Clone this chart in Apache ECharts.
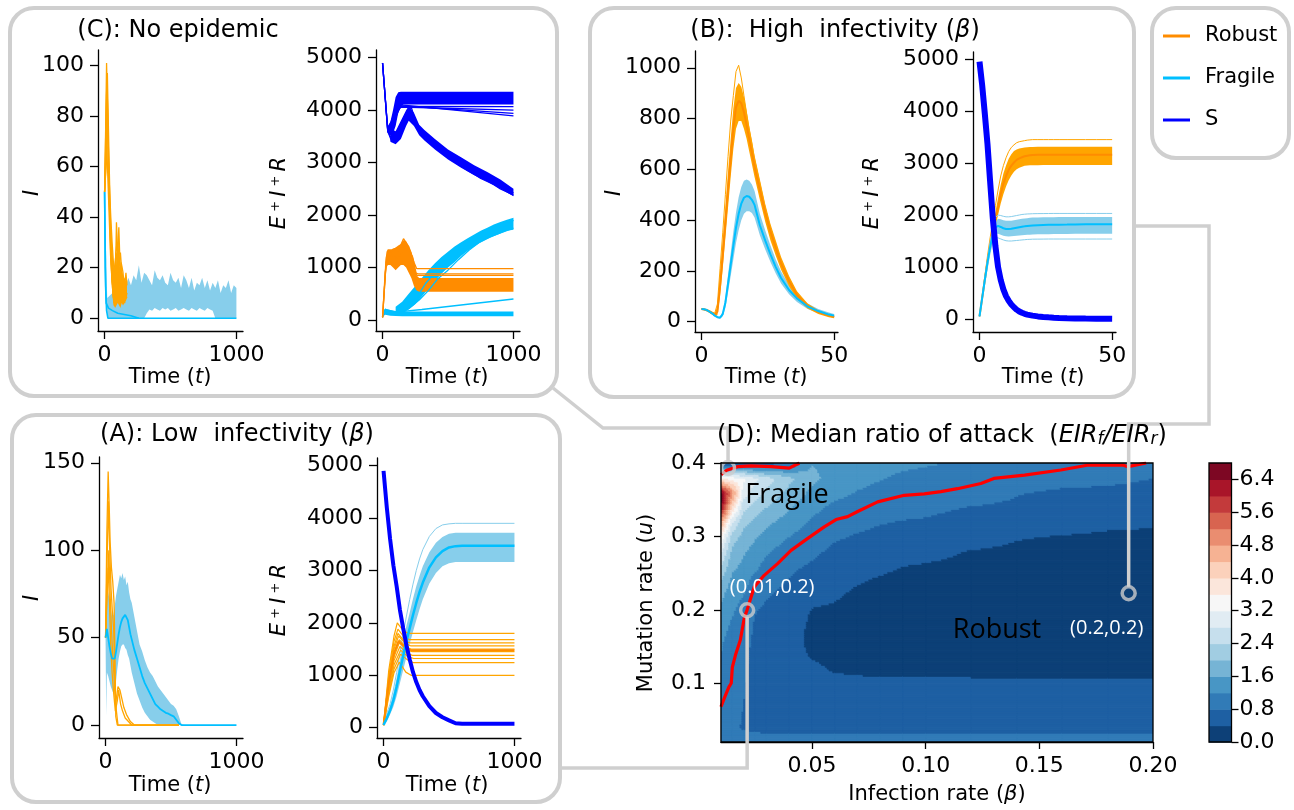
<!DOCTYPE html>
<html>
<head>
<meta charset="utf-8">
<script src="https://cdn.jsdelivr.net/npm/echarts/dist/echarts.min.js"></script>
<style>
  html, body { margin: 0; padding: 0; background: #fff; }
  #main { width: 1294px; height: 810px; }
</style>
</head>
<body>
<div id="main"></div>
<script>
// ---------- data ----------

// (B) high infectivity, time 0..50
const tB = [0,1,2,3,4,5,6,7,8,9,10,11,12,13,14,15,16,17,18,19,20,22,24,26,28,30,33,36,40,44,48,50];
const bRobustIMed = [50,48,45,40,33,27,40,140,260,390,520,640,760,845,870,860,825,775,720,665,610,520,430,355,290,230,160,105,62,38,24,19];
const bRobustILo  = [48,45,41,35,28,22,25,100,210,330,450,570,680,760,790,790,760,720,670,620,570,480,395,320,260,205,140,90,52,30,18,14];
const bRobustIHi  = [52,50,48,44,38,33,60,190,320,450,590,720,840,920,940,925,885,830,770,715,655,560,465,385,320,255,180,120,72,45,30,24];
const bRobustIOut = [52,50,48,44,38,34,70,210,350,500,650,790,890,985,1010,960,890,820,755,700,640,545,450,370,305,240,170,112,66,42,27,22];
const bFragileIMed = [50,49,46,40,33,24,18,16,30,75,150,225,300,370,425,465,488,495,492,480,460,380,320,265,215,172,125,92,60,42,28,24];
const bFragileILo  = [48,47,44,37,30,21,15,13,22,55,115,180,245,310,360,400,425,435,435,428,410,340,285,235,190,150,108,78,50,34,22,18];
const bFragileIHi  = [52,51,48,43,36,28,22,20,40,95,185,270,355,430,490,530,555,560,555,540,515,425,360,300,245,198,145,108,72,50,36,30];
const bS = [4950,4500,3950,3370,2650,1950,1400,1000,750,570,440,350,280,225,180,145,120,100,85,75,65,50,40,32,25,20,15,12,9,7,6,5];
const bRobustRMed = [50,400,750,1100,1400,1650,1900,2150,2400,2600,2750,2870,2950,3010,3060,3090,3110,3130,3140,3150,3155,3158,3160,3160,3160,3160,3160,3160,3160,3160,3160,3160];
const bRobustRLo  = [50,380,700,1020,1300,1550,1780,2000,2220,2400,2550,2670,2760,2830,2880,2910,2930,2945,2950,2955,2955,2958,2960,2960,2960,2960,2960,2960,2960,2960,2960,2960];
const bRobustRHi  = [50,420,800,1180,1500,1780,2060,2330,2580,2800,2950,3080,3170,3230,3260,3280,3290,3300,3305,3310,3310,3312,3315,3315,3315,3315,3315,3315,3315,3315,3315,3315];
const bRobustROut = [50,430,820,1210,1560,1870,2180,2480,2750,2950,3100,3220,3300,3350,3390,3410,3420,3430,3440,3445,3450,3450,3450,3450,3450,3450,3450,3450,3450,3450,3450,3450];
const bFragileRMed = [50,400,750,1080,1380,1620,1760,1790,1770,1745,1730,1730,1735,1745,1755,1765,1775,1782,1790,1795,1800,1805,1810,1812,1814,1815,1816,1818,1820,1820,1820,1820];
const bFragileRLo  = [50,380,720,1030,1320,1540,1640,1640,1620,1600,1590,1588,1590,1595,1600,1605,1610,1615,1620,1622,1625,1628,1630,1632,1634,1635,1636,1638,1640,1640,1640,1640];
const bFragileRHi  = [50,420,780,1120,1440,1700,1880,1930,1920,1900,1890,1888,1890,1900,1910,1920,1930,1935,1940,1945,1950,1952,1955,1957,1958,1960,1960,1960,1960,1960,1960,1960];
const bFragileROutHi = [50,430,800,1150,1480,1760,1950,2000,1990,1975,1965,1965,1970,1980,1990,2000,2010,2015,2020,2022,2025,2027,2028,2029,2030,2030,2030,2030,2030,2030,2030,2030];
const bFragileROutLo = [50,370,700,1000,1280,1490,1570,1560,1540,1520,1505,1500,1500,1505,1510,1515,1520,1525,1530,1532,1535,1536,1537,1538,1538,1538,1538,1538,1538,1538,1538,1538];

// (C) no epidemic, time 0..1000
const tC = [0,20,40,60,80,100,120,140,160,180,200,220,240,260,280,300,320,340,360,380,400,420,440,460,480,500,520,540,560,580,600,620,640,660,680,700,720,740,760,780,800,820,840,860,880,900,920,940,960,980,1000];
const cFragTop = [50,8,9,10,10,13,11,14,12,16,13,17,15,21,14,18,17,15,13,19,16,15,17,14,13,18,15,14,16,12,17,15,12,16,11,14,13,16,12,15,11,14,12,15,10,13,12,15,10,13,12];
const cFragBot = [50,0,0,0,0,0,0,0,0,0,0,0,0,0,0,0,2,3.5,3,4,3.5,3,4,3.5,4,3,3.5,4,3,3.5,4,3.5,3,4,3.5,3,4,3.5,3,4,3.5,3,0,0,0,0,0,0,0,0,0];
const cFragILines = [
  [[0,50],[8,12],[15,3],[25,0],[1000,0]],
  [[0,50],[5,20],[12,6],[30,4],[60,3],[100,2],[150,1.5],[200,1],[260,0]]
];
const cRobIBandT  = [40,50,60,70,80,90,100,110,120,130,140,150,160,170];
const cRobIBandLo = [28,16,9,5,4,5,6,5,4,6,5,6,7,8];
const cRobIBandHi = [48,36,26,20,18,22,24,20,21,19,17,16,15,13];
const cRobustILines = [
  [[0,50],[8,75],[15,101],[22,85],[30,60],[40,38],[50,22],[60,12],[70,6],[80,10],[90,38],[100,25],[110,18],[125,12],[140,9],[155,12],[168,8]],
  [[0,50],[10,70],[18,95],[26,72],[34,50],[44,32],[54,20],[64,10],[74,5],[86,15],[96,22],[108,36],[118,20],[132,14],[148,10],[165,14]],
  [[0,50],[12,62],[20,80],[30,66],[38,45],[48,28],[58,15],[68,8],[78,14],[92,20],[104,15],[116,10],[128,18],[142,12],[158,7],[170,10]],
  [[0,50],[9,58],[17,68],[25,55],[35,40],[45,25],[55,16],[65,12],[75,20],[88,26],[100,18],[112,24],[124,16],[138,8],[152,6],[166,11]],
  [[0,50],[14,88],[21,97],[28,78],[36,58],[46,35],[56,24],[66,18],[76,9],[84,25],[94,30],[106,20],[120,26],[134,16],[150,12],[162,18],[170,13]],
  [[0,50],[11,66],[19,90],[27,64],[37,52],[47,40],[57,30],[67,22],[77,16],[90,12],[102,30],[114,14],[126,22],[140,18],[154,9],[168,15]]
];
const cSFlatT  = [0,20,40,60,80,100,120,140,160,1000];
const cSFlatLo = [4880,4150,3560,3520,3560,3700,3950,4080,4110,4110];
const cSFlatHi = [4920,4300,3700,3780,4000,4250,4340,4350,4350,4350];
const cSLines = [
  [[0,4900],[40,3600],[90,3800],[140,4100],[1000,3890]],
  [[0,4900],[40,3620],[90,3850],[140,4080],[1000,3940]],
  [[0,4900],[40,3580],[90,3900],[140,4060],[1000,4000]],
  [[0,4900],[40,3600],[90,3950],[140,4070],[1000,4066]]
];
const cSDecT  = [60,100,140,180,200,240,280,320,400,500,600,700,800,900,1000];
const cSDecLo = [3400,3350,3450,3700,3800,3700,3520,3420,3250,3060,2900,2760,2640,2500,2360];
const cSDecHi = [3650,3600,3800,4000,4080,3950,3720,3620,3450,3250,3100,2950,2820,2680,2500];
const cSDecLines = [
  [[40,3600],[70,3450],[100,3500],[130,3700],[160,3850],[190,4000],[220,4050],[250,3800],[280,3650],[320,3560],[360,3480],[400,3380],[450,3280],[500,3150],[550,3080],[600,2990],[650,2900],[700,2830],[750,2760],[800,2700],[850,2640],[900,2580],[950,2500],[1000,2420]],
  [[40,3600],[70,3400],[100,3420],[130,3600],[160,3800],[190,3950],[220,3950],[250,3760],[280,3600],[320,3500],[360,3420],[400,3330],[450,3220],[500,3100],[550,3020],[600,2930],[650,2850],[700,2780],[750,2700],[800,2640],[850,2580],[900,2500],[950,2440],[1000,2380]]
];
const cRobT  = [0,10,20,30,40,60,80,100,120,140,160,180,200,220,240,260,280,1000];
const cRobLo = [50,300,700,1000,1050,1050,1000,950,1000,1050,1050,1000,900,800,650,560,540,540];
const cRobHi = [50,600,1100,1300,1350,1350,1350,1380,1420,1450,1520,1500,1400,1300,1100,850,800,800];
const cRobLines = [
  [[0,50],[20,900],[40,1300],[100,1200],[160,1550],[200,1400],[240,1100],[260,980],[1000,980]],
  [[0,50],[30,1200],[80,1350],[150,1400],[210,1300],[250,900],[270,880],[1000,880]],
  [[0,50],[25,1000],[60,1250],[120,1150],[180,1450],[230,1200],[260,850],[1000,850]]
];
const cFragFlatT  = [0,10,20,40,60,100,150,200,1000];
const cFragFlatLo = [40,80,100,90,80,75,70,70,70];
const cFragFlatHi = [60,180,220,200,190,170,160,160,160];
const cFragRiseT  = [100,150,200,250,300,350,400,450,500,550,600,650,700,750,800,850,900,950,1000];
const cFragRiseLo = [100,130,200,300,450,600,750,880,1000,1100,1220,1320,1400,1480,1550,1600,1650,1700,1720];
const cFragRiseHi = [250,350,500,650,800,950,1080,1200,1300,1400,1480,1560,1630,1700,1760,1820,1870,1910,1950];
const cFragRLines = [
  [[0,50],[20,200],[100,150],[300,200],[1000,400]],
  [[100,150],[180,300],[260,420],[330,700],[400,900],[480,1080],[560,1250],[640,1420],[720,1540],[800,1640],[880,1720],[960,1820],[1000,1900]],
  [[120,120],[200,220],[280,380],[350,560],[420,780],[500,950],[580,1150],[660,1330],[740,1480],[820,1580],[900,1660],[1000,1750]]
];

// (A) low infectivity, time 0..1000
const tA1 = [0,5,10,20,30,40,50,60,70,80,90,100,110,120,130,140,150,160,170,180,190,200,220,240,260,280,300,320,340,360,380,400,420,440,460,480,500,520,540,560,580,600,1000];
const aFragIMed = [50,52,55,50,45,41,38,37,38,42,47,52,56,59,61,62,63,62,60,56,52,49,43,38,33,28,24,21,18,15,12,10.5,9,8,7,6.5,5.7,5,3,1,0,0,0];
const aFragIHi  = [50,70,78,76,72,66,62,63,68,74,78,82,86,84,87,83,85,80,82,76,72,70,62,54,46,42,37,33,30,28,25,22,20,18,16,14,12,11,9,5,0.5,0,0];
const aFragILo  = [50,5,30,28,25,22,20,18,20,25,32,38,42,45,46,46,44,43,40,38,34,30,24,18,14,10,7,5,3,2,1,0,0,0,0,0,0,0,0,0,0,0,0];
const aRobustILines = [
  [[0,50],[10,110],[20,145],[28,125],[35,105],[45,90],[55,82],[65,70],[72,40],[78,5],[90,0],[560,0]],
  [[0,50],[12,95],[22,128],[32,100],[42,78],[52,65],[62,55],[70,30],[80,10],[95,0],[560,0]],
  [[0,50],[15,80],[25,100],[35,75],[45,55],[55,40],[65,28],[75,12],[88,18],[95,22],[110,20],[125,15],[140,10],[160,6],[190,2],[220,0],[560,0]],
  [[0,50],[10,75],[20,90],[30,70],[40,45],[50,30],[60,20],[75,8],[90,14],[100,20],[115,12],[130,8],[150,4],[175,2],[200,0],[560,0]]
];
const tA2 = [0,25,50,75,100,125,150,175,200,225,250,275,300,350,400,450,500,550,600,1000];
const aS = [4900,4200,3600,3100,2700,2250,1900,1570,1300,1060,870,720,600,410,280,200,140,85,75,75];
const aFragRMed = [50,180,330,520,780,1080,1370,1650,1900,2150,2380,2590,2770,3060,3250,3370,3440,3465,3470,3470];
const aFragRLo  = [40,120,250,400,600,850,1100,1350,1600,1830,2050,2260,2450,2750,2950,3080,3140,3160,3160,3160];
const aFragRHi  = [60,260,420,650,950,1300,1650,1950,2200,2460,2700,2900,3080,3350,3530,3640,3700,3720,3720,3720];
const aFragROut = [60,280,450,720,1050,1420,1800,2130,2450,2740,3000,3220,3400,3650,3800,3870,3890,3900,3900,3900];
const aRobustRLines = [
  [[0,50],[40,1100],[80,1750],[105,2000],[150,1850],[190,1800],[1000,1800]],
  [[0,50],[40,1000],[80,1650],[110,1880],[160,1720],[200,1680],[1000,1680]],
  [[0,50],[40,950],[80,1550],[110,1800],[160,1650],[200,1620],[1000,1620]],
  [[0,50],[40,900],[80,1500],[115,1750],[170,1600],[210,1560],[1000,1560]],
  [[0,50],[40,850],[80,1420],[120,1680],[170,1540],[210,1500],[1000,1500]],
  [[0,50],[40,800],[80,1350],[120,1620],[180,1480],[220,1450],[1000,1450]],
  [[0,50],[40,760],[80,1280],[125,1550],[180,1420],[220,1380],[1000,1380]],
  [[0,50],[40,700],[80,1200],[130,1480],[190,1350],[230,1320],[1000,1320]],
  [[0,50],[40,650],[80,1120],[130,1400],[190,1280],[230,1240],[1000,1240]],
  [[0,50],[40,600],[80,1050],[120,1250],[170,1060],[210,1000],[1000,1000]]
];
const aRobustRMed = [[0,50],[40,850],[80,1420],[115,1650],[170,1520],[210,1480],[1000,1480]];

// (D) median ratio EIR_f / EIR_r on (beta, u)
const betaGrid = [0.01,0.015,0.02,0.025,0.03,0.04,0.05,0.06,0.07,0.08,0.09,0.10,0.12,0.14,0.16,0.18,0.20];
const muGrid = [0.02,0.04,0.06,0.08,0.10,0.12,0.14,0.16,0.18,0.20,0.22,0.24,0.26,0.28,0.30,0.32,0.34,0.36,0.38,0.40];
// one row per beta, values along u (0.02 .. 0.40)
const ratioByBeta = [
  [1.0,0.9,0.96,1.04,1.1,1.15,1.2,1.25,1.35,1.5,1.7,2.0,2.4,2.9,3.6,4.8,6.5,6.7,3.6,0.4],
  [1.0,0.85,0.87,0.9,0.94,0.98,1.04,1.08,1.15,1.25,1.35,1.5,1.7,1.9,2.2,2.8,4.0,5.0,3.4,0.4],
  [1.0,0.78,0.79,0.81,0.83,0.85,0.88,0.92,0.97,1.04,1.2,1.35,1.5,1.65,1.85,2.1,2.5,3.0,3.3,0.5],
  [1.0,0.72,0.7,0.7,0.7,0.71,0.72,0.74,0.77,0.82,0.95,1.05,1.3,1.45,1.65,1.9,2.2,2.6,2.9,0.55],
  [1.0,0.7,0.65,0.64,0.64,0.65,0.66,0.68,0.7,0.75,0.82,0.93,1.07,1.25,1.45,1.7,2.0,2.3,2.6,0.6],
  [1.0,0.7,0.64,0.62,0.6,0.56,0.54,0.54,0.56,0.62,0.7,0.78,0.88,1.0,1.2,1.4,1.65,1.9,2.1,0.85],
  [1.0,0.7,0.64,0.6,0.55,0.47,0.37,0.32,0.34,0.385,0.48,0.62,0.75,0.88,1.0,1.15,1.3,1.5,1.7,1.6],
  [1.0,0.7,0.62,0.58,0.5,0.37,0.3,0.28,0.3,0.36,0.43,0.5,0.6,0.72,0.85,0.98,1.12,1.3,1.45,1.45],
  [1.0,0.7,0.62,0.58,0.48,0.34,0.27,0.25,0.27,0.3,0.35,0.42,0.5,0.62,0.76,0.9,1.04,1.18,1.3,1.35],
  [1.0,0.7,0.62,0.58,0.48,0.33,0.26,0.24,0.25,0.28,0.32,0.37,0.45,0.57,0.7,0.82,0.95,1.1,1.22,1.3],
  [1.0,0.7,0.62,0.58,0.47,0.32,0.25,0.23,0.24,0.27,0.3,0.34,0.4,0.54,0.66,0.78,0.9,1.04,1.15,1.25],
  [1.0,0.7,0.62,0.58,0.47,0.32,0.24,0.22,0.23,0.26,0.28,0.32,0.37,0.5,0.64,0.76,0.88,1.01,1.12,1.22],
  [1.0,0.7,0.62,0.58,0.47,0.31,0.23,0.21,0.22,0.24,0.26,0.29,0.32,0.38,0.55,0.66,0.78,0.97,1.07,1.17],
  [1.0,0.7,0.62,0.58,0.46,0.3,0.22,0.2,0.21,0.23,0.25,0.27,0.3,0.34,0.42,0.62,0.74,0.82,0.99,1.08],
  [1.0,0.7,0.62,0.58,0.45,0.3,0.22,0.2,0.2,0.22,0.24,0.26,0.28,0.32,0.38,0.52,0.63,0.74,0.92,1.05],
  [1.0,0.7,0.62,0.58,0.45,0.3,0.22,0.2,0.2,0.22,0.24,0.26,0.28,0.31,0.36,0.45,0.6,0.72,0.88,1.02],
  [1.0,0.7,0.62,0.58,0.46,0.32,0.22,0.2,0.2,0.21,0.23,0.25,0.27,0.3,0.35,0.43,0.58,0.68,0.8,1.0]
];
// ratio = 1 contours (red)
const ratioOneMain = [[0.01,0.068],[0.0115,0.08],[0.0135,0.095],[0.0145,0.1],[0.015,0.122],[0.0165,0.14],[0.0185,0.159],[0.0203,0.19],[0.0215,0.2],[0.0246,0.231],[0.029,0.247],[0.0349,0.263],[0.0408,0.281],[0.048,0.297],[0.0554,0.313],[0.0606,0.323],[0.0657,0.327],[0.0701,0.334],[0.0789,0.347],[0.0906,0.356],[0.0994,0.358],[0.1067,0.361],[0.114,0.365],[0.1243,0.372],[0.130,0.379],[0.1435,0.3836],[0.1595,0.3905],[0.171,0.397],[0.187,0.397],[0.189,0.395],[0.197,0.4]];
const ratioOneTop = [[0.01,0.384],[0.0125,0.39],[0.0173,0.395],[0.0232,0.396],[0.032,0.395],[0.040,0.393],[0.0445,0.4]];
const markerPts = [[0.0131,0.3932],[0.0215,0.1995],[0.1893,0.2226]];
const cbLevels = [0,0.4,0.8,1.2,1.6,2.0,2.4,2.8,3.2,3.6,4.0,4.4,4.8,5.2,5.6,6.0,6.4,6.8];
const cbTicks = [0,0.8,1.6,2.4,3.2,4.0,4.8,5.6,6.4];

// ---------- styles ----------
const FONT = 'DejaVu Sans';
const ANNO = 'Open Sans';
const TICK_FS = 22;
const ORANGE = '#ffa500', DORANGE = '#ff8c00', SKY = '#87ceeb', DSKY = '#00bfff', BLUE = '#0000ff';
const levelColors = ['#0d4077','#1e60a3','#317bb7','#4896c5','#76b4d5','#a1cde2','#c6dfed','#e1ecf3','#f7f7f7',
  '#fbe6db','#fbd1bb','#f6b293','#ea8d70','#d86450','#c33a3b','#a91529','#7d0723'];

const grids = [
  {left: 98,   top: 50,  width: 145, height: 281},  // C: I
  {left: 376,  top: 50,  width: 144, height: 281},  // C: E+I+R
  {left: 695,  top: 51,  width: 143, height: 281},  // B: I
  {left: 973,  top: 52,  width: 143, height: 280},  // B: E+I+R
  {left: 99,   top: 457, width: 144, height: 281},  // A: I
  {left: 377,  top: 458, width: 144, height: 280},  // A: E+I+R
  {left: 721,  top: 463, width: 432, height: 279},  // D
  {left: 1209, top: 463, width: 22.5, height: 279}  // colour bar
];

function mkAxis(gi, min, max, ticks, fmt, pos, tickLen, margin) {
  return {
    type: 'value', gridIndex: gi, min: min, max: max, position: pos,
    axisLine: {show: true, onZero: false, lineStyle: {color: '#000', width: 1.3}},
    axisTick: {show: true, length: tickLen, customValues: ticks, lineStyle: {color: '#000', width: 1.3}},
    axisLabel: {show: true, customValues: ticks, formatter: fmt, color: '#000', fontSize: TICK_FS, fontFamily: FONT, margin: margin},
    splitLine: {show: false}
  };
}
const plain = v => String(v);
const f1 = v => v.toFixed(1);
const f2 = v => v.toFixed(2);
const k5 = [0,1000,2000,3000,4000,5000];

const xAxis = [
  mkAxis(0, -50, 1050, [0,1000], plain, 'bottom', 8, 13),
  mkAxis(1, -50, 1050, [0,1000], plain, 'bottom', 8, 13),
  mkAxis(2, -2.45, 51.45, [0,50], plain, 'bottom', 8, 13),
  mkAxis(3, -2.45, 51.45, [0,50], plain, 'bottom', 8, 13),
  mkAxis(4, -50, 1050, [0,1000], plain, 'bottom', 8, 13),
  mkAxis(5, -50, 1050, [0,1000], plain, 'bottom', 8, 13),
  mkAxis(6, 0.01, 0.2, [0.05,0.10,0.15,0.20], f2, 'bottom', 7, 13),
  {type: 'value', gridIndex: 7, min: 0, max: 1, show: false}
];
const yAxis = [
  mkAxis(0, -5.05, 106.1, [0,20,40,60,80,100], plain, 'left', 8, 14),
  mkAxis(1, -210, 5147, k5, plain, 'left', 8, 14),
  mkAxis(2, -40.5, 1066, [0,200,400,600,800,1000], plain, 'left', 8, 14),
  mkAxis(3, -250, 5135, k5, plain, 'left', 8, 14),
  mkAxis(4, -7.4, 153.3, [0,50,100,150], plain, 'left', 8, 14),
  mkAxis(5, -197, 5147, k5, plain, 'left', 8, 14),
  mkAxis(6, 0.02, 0.4, [0.1,0.2,0.3,0.4], f1, 'left', 7, 15),
  mkAxis(7, 0, 6.8, cbTicks, f1, 'right', 7, 8)
];
yAxis[7].axisLine.show = false;

// ---------- series ----------
const series = [];
const pairs = (ts, vs) => ts.map((t, i) => [t, vs[i]]);
function addLine(gi, pts, color, width, z) {
  series.push({type: 'line', xAxisIndex: gi, yAxisIndex: gi, data: pts, symbol: 'none', showSymbol: false,
    silent: true, animation: false, z: z, lineStyle: {color: color, width: width}, itemStyle: {color: color}});
}
function addBand(gi, ts, lo, hi, color, z) {
  series.push({type: 'custom', xAxisIndex: gi, yAxisIndex: gi, silent: true, animation: false, z: z, clip: true,
    data: [[ts[0], lo[0]]],
    renderItem: function (params, api) {
      const pts = [];
      for (let i = 0; i < ts.length; i++) pts.push(api.coord([ts[i], hi[i]]));
      for (let i = ts.length - 1; i >= 0; i--) pts.push(api.coord([ts[i], lo[i]]));
      return {type: 'polygon', shape: {points: pts}, style: {fill: color}};
    }});
}

// C: I
addBand(0, tC, cFragBot, cFragTop, SKY, 2);
cFragILines.forEach(p => addLine(0, p, DSKY, 1.6, 3));
addBand(0, cRobIBandT, cRobIBandLo, cRobIBandHi, ORANGE, 4);
cRobustILines.forEach(p => addLine(0, p, ORANGE, 1.3, 4));
// C: E+I+R
addBand(1, cFragFlatT, cFragFlatLo, cFragFlatHi, DSKY, 2);
addBand(1, cFragRiseT, cFragRiseLo, cFragRiseHi, DSKY, 2);
cFragRLines.forEach(p => addLine(1, p, DSKY, 1.3, 3));
addBand(1, cRobT, cRobLo, cRobHi, DORANGE, 3);
cRobLines.forEach(p => addLine(1, p, DORANGE, 1.3, 3));
addBand(1, cSFlatT, cSFlatLo, cSFlatHi, BLUE, 4);
cSLines.forEach(p => addLine(1, p, BLUE, 1.3, 4));
addBand(1, cSDecT, cSDecLo, cSDecHi, BLUE, 4);
cSDecLines.forEach(p => addLine(1, p, BLUE, 1.3, 4));
// B: I
addBand(2, tB, bFragileILo, bFragileIHi, SKY, 2);
addBand(2, tB, bRobustILo, bRobustIHi, ORANGE, 3);
addLine(2, pairs(tB, bRobustIOut), ORANGE, 1, 3);
addLine(2, pairs(tB, bRobustIMed), DORANGE, 2, 4);
addLine(2, pairs(tB, bFragileIMed), DSKY, 2, 5);
// B: E+I+R
addBand(3, tB, bRobustRLo, bRobustRHi, ORANGE, 2);
addLine(3, pairs(tB, bRobustROut), ORANGE, 1, 2);
addLine(3, pairs(tB, bRobustRMed), DORANGE, 2, 3);
addBand(3, tB, bFragileRLo, bFragileRHi, SKY, 3);
addLine(3, pairs(tB, bFragileROutHi), SKY, 1, 3);
addLine(3, pairs(tB, bFragileROutLo), SKY, 1, 3);
addLine(3, pairs(tB, bFragileRMed), DSKY, 2, 4);
addLine(3, pairs(tB, bS), BLUE, 6, 5);
// A: I
addBand(4, tA1, aFragILo, aFragIHi, SKY, 2);
aRobustILines.forEach(p => addLine(4, p, ORANGE, 1.3, 3));
addLine(4, pairs(tA1, aFragIMed), DSKY, 1.8, 4);
// A: E+I+R
addBand(5, tA2, aFragRLo, aFragRHi, SKY, 2);
addLine(5, pairs(tA2, aFragROut), SKY, 1, 2);
aRobustRLines.forEach(p => addLine(5, p, ORANGE, 1.2, 3));
addLine(5, aRobustRMed, DORANGE, 2, 3);
addLine(5, pairs(tA2, aFragRMed), DSKY, 2.5, 4);
addLine(5, pairs(tA2, aS), BLUE, 4, 5);

// D: filled contour from the (beta, u) grid
function levelColor(v) {
  const k = Math.min(levelColors.length - 1, Math.max(0, Math.floor(v / 0.4 + 1e-9)));
  return levelColors[k];
}
const nb = betaGrid.length - 1, nu = muGrid.length - 1;
const quads = [];
for (let j = 0; j < nu; j++) for (let i = 0; i < nb; i++) quads.push([betaGrid[i], muGrid[j]]);
series.push({
  type: 'custom', xAxisIndex: 6, yAxisIndex: 6, silent: true, animation: false, z: 1, clip: true, data: quads,
  renderItem: function (params, api) {
    const k = params.dataIndex, i = k % nb, j = Math.floor(k / nb);
    const v00 = ratioByBeta[i][j], v10 = ratioByBeta[i + 1][j], v01 = ratioByBeta[i][j + 1], v11 = ratioByBeta[i + 1][j + 1];
    const pA = api.coord([betaGrid[i], muGrid[j]]), pB = api.coord([betaGrid[i + 1], muGrid[j + 1]]);
    const W = pB[0] - pA[0], H = pA[1] - pB[1];
    const nx = Math.max(1, Math.ceil(W / 2)), ny = Math.max(1, Math.ceil(H / 2));
    const children = [];
    for (let b = 0; b < ny; b++) {
      const fy = (b + 0.5) / ny;
      let runStart = 0, runColor = null;
      for (let a = 0; a <= nx; a++) {
        let c = null;
        if (a < nx) {
          const fx = (a + 0.5) / nx;
          const v = v00 * (1 - fx) * (1 - fy) + v10 * fx * (1 - fy) + v01 * (1 - fx) * fy + v11 * fx * fy;
          c = levelColor(v);
        }
        if (c !== runColor) {
          if (runColor !== null) {
            children.push({type: 'rect', shape: {x: pA[0] + runStart * W / nx, y: pA[1] - (b + 1) * H / ny,
              width: (a - runStart) * W / nx + 0.5, height: H / ny + 0.5},
              style: {fill: runColor, stroke: runColor, lineWidth: 0.8}});
          }
          runStart = a; runColor = c;
        }
      }
    }
    return {type: 'group', children: children};
  }
});
addLine(6, ratioOneMain, '#ff0000', 3.2, 6);
addLine(6, ratioOneTop, '#ff0000', 3.2, 6);
series.push({type: 'scatter', xAxisIndex: 6, yAxisIndex: 6, data: markerPts, symbol: 'circle', symbolSize: 13,
  silent: true, animation: false, z: 30,
  itemStyle: {color: 'rgba(0,0,0,0)', borderColor: '#cccccc', borderWidth: 3.5}});
// colour bar
series.push({type: 'custom', xAxisIndex: 7, yAxisIndex: 7, silent: true, animation: false, z: 1,
  data: cbLevels.slice(0, -1).map(l => [0, l]),
  renderItem: function (params, api) {
    const i = params.dataIndex;
    const p0 = api.coord([0, cbLevels[i]]), p1 = api.coord([1, cbLevels[i + 1]]);
    return {type: 'rect', shape: {x: p0[0], y: p1[1], width: p1[0] - p0[0], height: p0[1] - p1[1] + 0.6},
      style: {fill: levelColors[i]}};
  }});

const chart = echarts.init(document.getElementById('main'), null, {renderer: 'canvas'});
chart.setOption({animation: false, backgroundColor: '#ffffff', grid: grids, xAxis: xAxis, yAxis: yAxis, series: series});

// ---------- annotations ----------
function rich(size) {
  return {
    it: {fontStyle: 'italic', fontSize: size, fontFamily: FONT, fill: '#000', color: '#000'},
    sub: {fontStyle: 'italic', fontSize: Math.round(size * 0.7), fontFamily: FONT, fill: '#000', color: '#000', verticalAlign: 'bottom'},
    sup: {fontSize: Math.round(size * 0.62), fontFamily: FONT, fill: '#000', color: '#000', verticalAlign: 'top'}
  };
}
function txt(x, y, text, size, extra) {
  const e = {type: 'text', x: x, y: y, z: 200, silent: true,
    style: {text: text, fontSize: size, fontFamily: FONT, fill: '#000', align: 'center', verticalAlign: 'middle',
      textAlign: 'center', textVerticalAlign: 'middle', rich: rich(size)}};
  if (extra) {
    if (extra.rotation) e.rotation = extra.rotation;
    Object.assign(e.style, extra.style || {});
  }
  return e;
}
const box = (x, y, w, h) => ({type: 'rect', z: 50, silent: true, shape: {x: x, y: y, width: w, height: h, r: 24},
  style: {fill: 'none', stroke: '#cfcfcf', lineWidth: 4}});
const wire = pts => ({type: 'polyline', z: 100, silent: true, shape: {points: pts},
  style: {fill: 'none', stroke: '#cfcfcf', lineWidth: 3.5}});
const up = Math.PI / 2;

const m = markerPts.map(p => chart.convertToPixel({gridIndex: 6}, p));
const gD = grids[6], gCB = grids[7];
const elements = [
  box(10, 8, 547, 388), box(590, 8, 544, 389), box(12, 415, 548, 387), box(1152, 8, 137, 150),
  wire([[553, 388], [603, 428], [m[0][0], 428], [m[0][0], m[0][1] - 6.5]]),
  wire([[1134, 226], [1209, 226], [1209, 424], [m[2][0], 424], [m[2][0], m[2][1] - 6.5]]),
  wire([[560, 768], [m[1][0], 768], [m[1][0], m[1][1] + 6.5]]),
  {type: 'rect', z: 90, silent: true, shape: {x: gD.left, y: gD.top, width: gD.width, height: gD.height},
    style: {fill: 'none', stroke: '#000', lineWidth: 1.3}},
  {type: 'rect', z: 90, silent: true, shape: {x: gCB.left, y: gCB.top, width: gCB.width, height: gCB.height},
    style: {fill: 'none', stroke: '#000', lineWidth: 1.3}},
  // titles
  txt(178, 31, '(C): No epidemic', 24),
  txt(835, 31, '(B):  High  infectivity ({it|β})', 24),
  txt(237, 435, '(A): Low  infectivity ({it|β})', 24),
  txt(942, 436, '(D): Median ratio of attack  ({it|EIR}{sub|f}{it|/EIR}{sub|r})', 24),
  // axis names
  txt(170, 378, 'Time ({it|t})', 21), txt(447, 378, 'Time ({it|t})', 21),
  txt(766, 378, 'Time ({it|t})', 21), txt(1043, 378, 'Time ({it|t})', 21),
  txt(170, 786, 'Time ({it|t})', 21), txt(447, 786, 'Time ({it|t})', 21),
  txt(33, 193, '{it|I}', 21, {rotation: up}), txt(615, 193, '{it|I}', 21, {rotation: up}),
  txt(33, 598, '{it|I}', 21, {rotation: up}),
  txt(280, 193, '{it|E}{sup| + }{it|I}{sup| + }{it|R}', 21, {rotation: up}),
  txt(873, 193, '{it|E}{sup| + }{it|I}{sup| + }{it|R}', 21, {rotation: up}),
  txt(280, 600, '{it|E}{sup| + }{it|I}{sup| + }{it|R}', 21, {rotation: up}),
  txt(647, 603, 'Mutation rate ({it|u})', 21, {rotation: up}),
  txt(937, 795, 'Infection rate ({it|β})', 21),
  // heatmap annotations
  txt(787, 495, 'Fragile', 27, {style: {fontFamily: ANNO}}),
  txt(997, 630, 'Robust', 27, {style: {fontFamily: ANNO}}),
  txt(m[1][0] + 25, m[1][1] - 23, '(0.01,0.2)', 20, {style: {fontFamily: ANNO, fill: '#ffffff'}}),
  txt(m[2][0] - 22, m[2][1] + 35, '(0.2,0.2)', 20, {style: {fontFamily: ANNO, fill: '#ffffff'}})
];
// legend
[['Robust', DORANGE, 36], ['Fragile', DSKY, 78], ['S', BLUE, 120]].forEach(function (it) {
  elements.push({type: 'line', z: 60, silent: true, shape: {x1: 1163, y1: it[2], x2: 1190, y2: it[2]},
    style: {stroke: it[1], lineWidth: 3}});
  elements.push(txt(1205, it[2], it[0], 21, {style: {align: 'left', textAlign: 'left'}}));
});
chart.setOption({graphic: {elements: elements}});
</script>
</body>
</html>
